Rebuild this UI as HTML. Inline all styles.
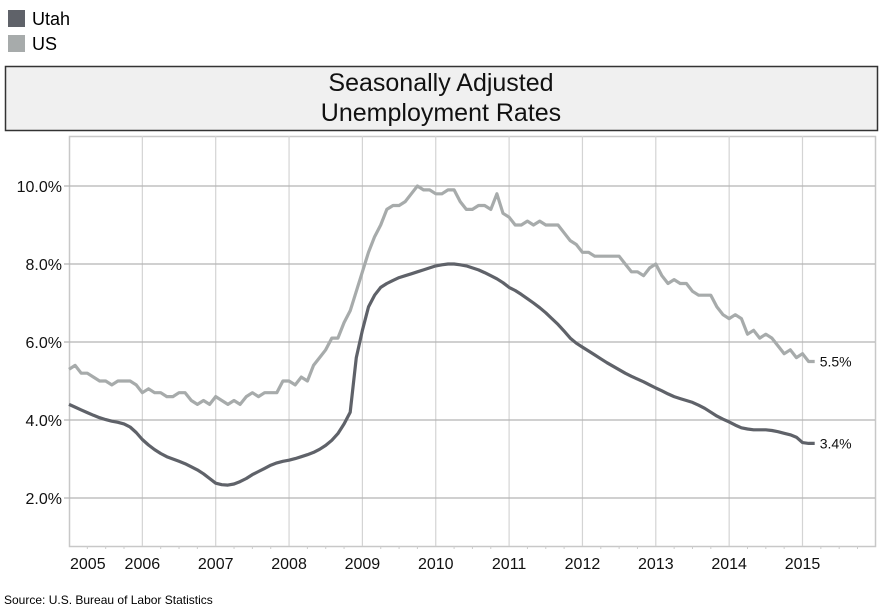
<!DOCTYPE html>
<html><head><meta charset="utf-8">
<style>
body{margin:0;background:#fff;font-family:"Liberation Sans",sans-serif;}
#wrap{position:relative;width:885px;height:611px;overflow:hidden;}
</style></head>
<body>
<div id="wrap">
<svg id="chart" width="885" height="611" style="position:absolute;left:0;top:0">
  <g>
    <rect x="8" y="10" width="17" height="17" fill="#5f6269"/>
    <text x="32" y="25" font-size="18" fill="#000">Utah</text>
    <rect x="8" y="35" width="17" height="17" fill="#a7abab"/>
    <text x="32" y="50" font-size="18" fill="#000">US</text>
  </g>
  <g>
    <rect x="5.5" y="66.5" width="872" height="64" fill="#f0f0f0" stroke="#333" stroke-width="1.5"/>
    <text x="441" y="91" font-size="25" text-anchor="middle" fill="#111">Seasonally Adjusted</text>
    <text x="441" y="121" font-size="25" text-anchor="middle" fill="#111">Unemployment Rates</text>
  </g>
  <g id="grid"></g>
  <g id="lines"></g>
  <text x="4" y="604" font-size="12" fill="#000">Source: U.S. Bureau of Labor Statistics</text>
</svg>
</div>
<script>
const years = [2005,2006,2007,2008,2009,2010,2011,2012,2013,2014,2015];
const yTicks = [2,4,6,8,10];
const yTickLabels = ["2.0%","4.0%","6.0%","8.0%","10.0%"];
const usRates = [5.3,5.4,5.2,5.2,5.1,5.0,5.0,4.9,5.0,5.0,5.0,4.9,
4.7,4.8,4.7,4.7,4.6,4.6,4.7,4.7,4.5,4.4,4.5,4.4,
4.6,4.5,4.4,4.5,4.4,4.6,4.7,4.6,4.7,4.7,4.7,5.0,
5.0,4.9,5.1,5.0,5.4,5.6,5.8,6.1,6.1,6.5,6.8,7.3,
7.8,8.3,8.7,9.0,9.4,9.5,9.5,9.6,9.8,10.0,9.9,9.9,
9.8,9.8,9.9,9.9,9.6,9.4,9.4,9.5,9.5,9.4,9.8,9.3,
9.2,9.0,9.0,9.1,9.0,9.1,9.0,9.0,9.0,8.8,8.6,8.5,
8.3,8.3,8.2,8.2,8.2,8.2,8.2,8.0,7.8,7.8,7.7,7.9,
8.0,7.7,7.5,7.6,7.5,7.5,7.3,7.2,7.2,7.2,6.9,6.7,
6.6,6.7,6.6,6.2,6.3,6.1,6.2,6.1,5.9,5.7,5.8,5.6,
5.7,5.5,5.5];
const utahRates = [4.4,4.33,4.26,4.19,4.12,4.06,4.01,3.97,3.94,3.9,3.82,3.68,
3.5,3.36,3.24,3.14,3.06,3.0,2.94,2.88,2.8,2.72,2.62,2.5,
2.38,2.34,2.33,2.36,2.42,2.5,2.6,2.68,2.76,2.84,2.9,2.94,
2.97,3.01,3.06,3.11,3.17,3.25,3.35,3.48,3.65,3.9,4.2,5.6,
6.3,6.9,7.2,7.4,7.5,7.58,7.65,7.7,7.75,7.8,7.85,7.9,
7.95,7.98,8.0,8.0,7.98,7.95,7.9,7.85,7.78,7.7,7.62,7.52,
7.4,7.32,7.22,7.11,7.0,6.88,6.75,6.6,6.45,6.28,6.1,5.97,
5.87,5.77,5.67,5.57,5.47,5.38,5.29,5.2,5.12,5.05,4.98,4.9,
4.82,4.75,4.67,4.6,4.55,4.5,4.45,4.38,4.3,4.2,4.1,4.02,
3.95,3.87,3.8,3.77,3.75,3.75,3.75,3.73,3.7,3.66,3.62,3.56,
3.42,3.4,3.4];
const usLastLabel = "5.5%";
const utahLastLabel = "3.4%";

const NS="http://www.w3.org/2000/svg";
const L=69,R=875,T=136,B=546;
const X0=69, PX_YEAR=73.35;
function xScale(monthIndex){return X0+monthIndex*PX_YEAR/12;}
function yScale(v){return 576-39*v;}
function mk(tag,attrs,parent){const e=document.createElementNS(NS,tag);for(const k in attrs)e.setAttribute(k,attrs[k]);parent.appendChild(e);return e;}
const grid=document.getElementById('grid');
mk('rect',{x:L+0.5,y:T+0.5,width:R-L,height:B-T,fill:'#fff',stroke:'#c8c8c8','stroke-width':1.5},grid);
years.forEach((yr,i)=>{
  const x=xScale(i*12);
  if(i>0){
    const g=mk('line',{x1:x,x2:x,y1:T,y2:B,stroke:'#d4d4d4','stroke-width':1.2},grid);
    
    
  }
  for(let q=1;q<4;q++){
    const tx=xScale(i*12+q*3);
    mk('line',{x1:tx,x2:tx,y1:B,y2:B+3,stroke:'#ccc','stroke-width':1},grid);
  }
  const t=mk('text',{x:i===0?L+1:x,y:569,'font-size':16,'text-anchor':i===0?'start':'middle',fill:'#111'},grid);
  t.textContent=yr;
  
  
});
yTicks.forEach((v,i)=>{
  const y=yScale(v);
  const g=mk('line',{x1:L-5,x2:R,y1:y,y2:y,stroke:'#b4b4b4','stroke-width':1.3},grid);
  
  
  const t=mk('text',{x:62,y:y+6,'font-size':16,'text-anchor':'end',fill:'#111'},grid);
  t.textContent=yTickLabels[i];
  
  
});
const lines=document.getElementById('lines');
function drawSeries(arr,color,name,label){
  const d=arr.map((v,i)=>(i?'L':'M')+xScale(i).toFixed(1)+','+yScale(v).toFixed(1)).join(' ');
  const p=mk('path',{d:d,fill:'none',stroke:color,'stroke-width':3.2,'stroke-linejoin':'round'},lines);
  
  
  const n=arr.length-1;
  const t=mk('text',{x:xScale(n)+5,y:yScale(arr[n])+5,'font-size':14,fill:'#111'},lines);
  t.textContent=label;
  
  
}
drawSeries(usRates,'#a7abab','us',usLastLabel);
drawSeries(utahRates,'#5f6269','utah',utahLastLabel);
</script>
</body></html>
